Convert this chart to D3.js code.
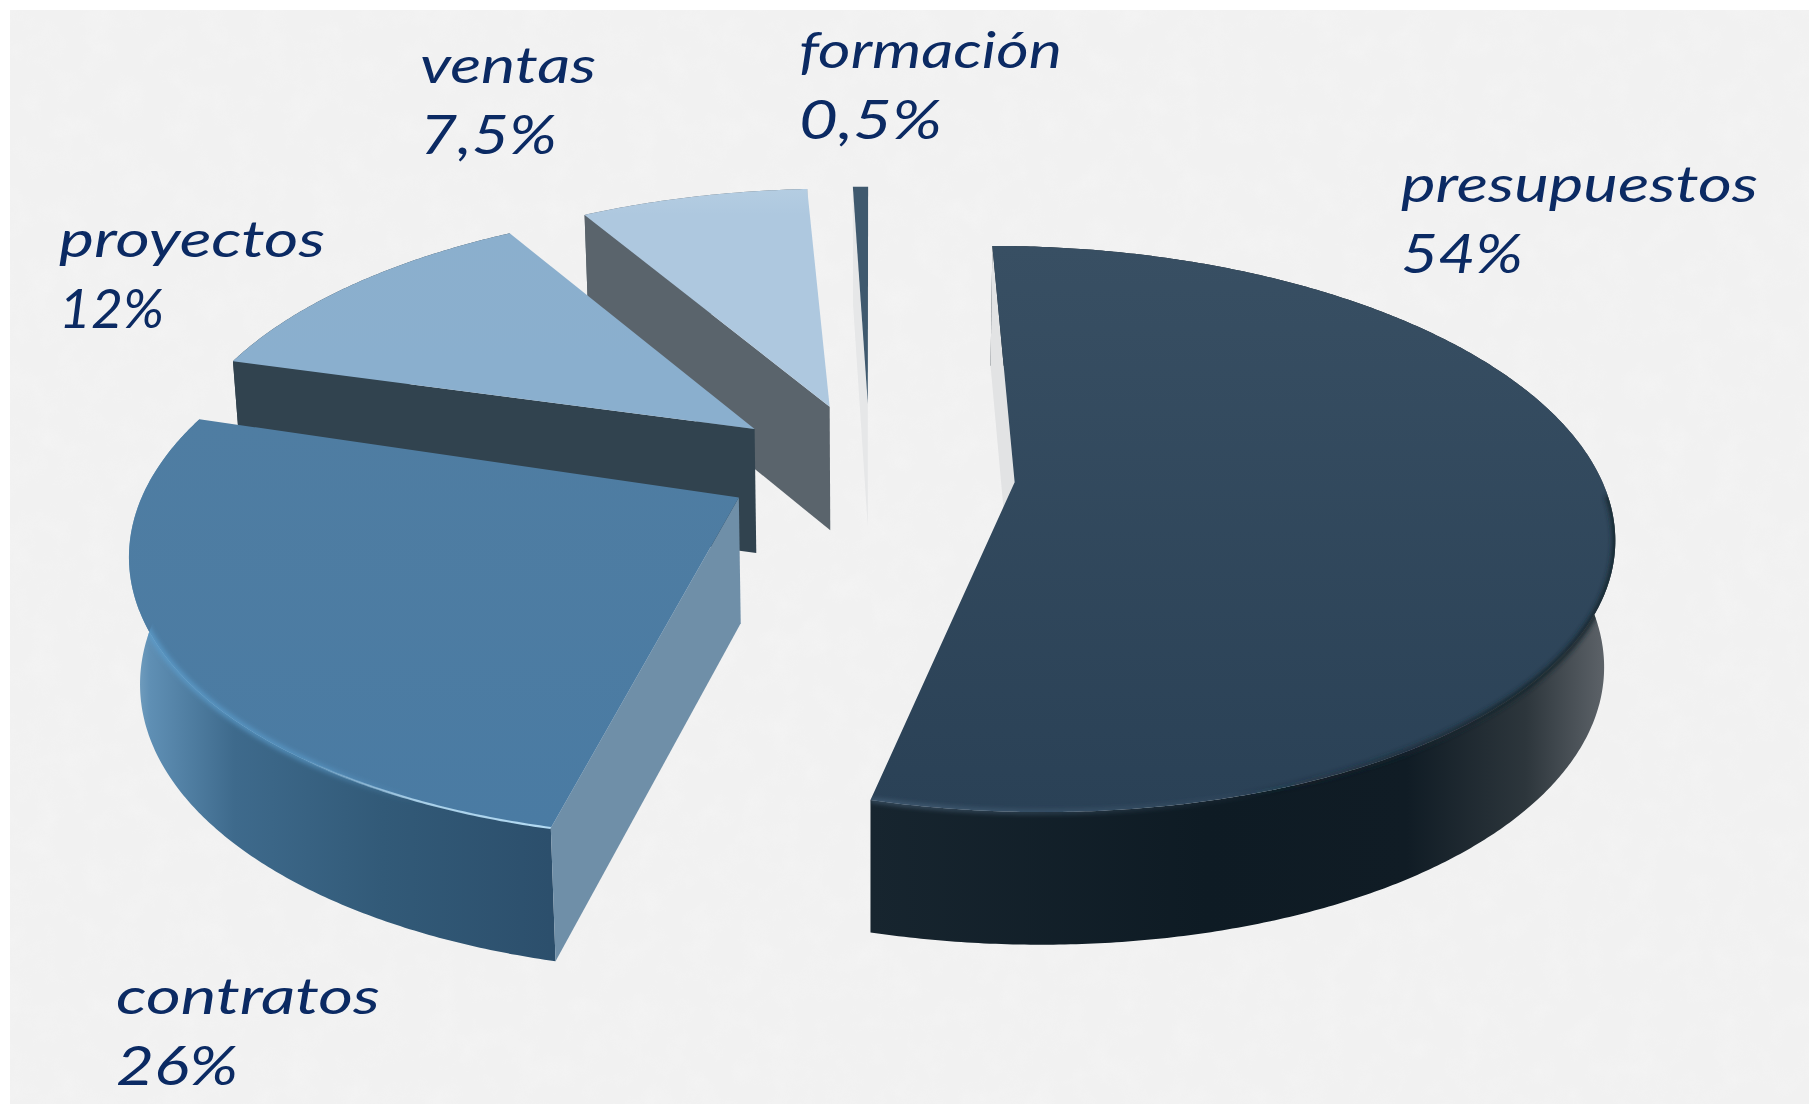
<!DOCTYPE html>
<html>
<head>
<meta charset="utf-8">
<style>
    html, body { margin: 0; padding: 0; background: #fff; }
    svg { display: block; }
    text { font-family: Lato, "Open Sans", sans-serif; font-style: italic; fill: #0b2a63; }
</style>
<script src="https://cdn.jsdelivr.net/npm/d3@7"></script>
</head>
<body>
<script>
'use strict';

var categories = ['presupuestos', 'contratos', 'proyectos', 'ventas', 'formación'];
var values = [54, 26, 12, 7.5, 0.5];
var valueLabels = ['54%', '26%', '12%', '7,5%', '0,5%'];

// styles per slice, same order as categories
var topColors = [['#384f63', '#2a4156'], ['#4f7da2', '#4a7ba3'], ['#8bafcd', '#8aafce'], ['#b4cde2', '#aec8df'], ['#3f596e', '#3f596e']];
var faceColors = ['#e2e3e4', '#6f8fa8', '#31434f', '#5a646c', '#e6e7e8'];
var wallStops = [
    [[0, '#17252f'], [0.45, '#0e1b24'], [0.72, '#101c25'], [0.88, '#2d363c'], [0.98, '#5a6066'], [1, '#62686d']],
    [[0, '#7fa8c6'], [0.05, '#5f8fb4'], [0.25, '#3e6a8c'], [0.6, '#325a78'], [1, '#2c4f6c']],
    [[0, '#31434f'], [1, '#31434f']],
    [[0, '#5a646c'], [1, '#5a646c']],
    [[0, '#e6e7e8'], [1, '#e6e7e8']]
];
var labelPlace = [
    {x: 1401, y: 202, w: 357, w2: 122},
    {x: 116, y: 1014, w: 264, w2: 122},
    {x: 59, y: 257, w: 266, w2: 105},
    {x: 420, y: 83, w: 176, w2: 137},
    {x: 799, y: 68, w: 263, w2: 143}
];
// small per-slice corrections for the hand-placed slices of the original
var turnDeg = [-0.2, -1.2, -2.2, -1.5, 0];
var nudge = [[0, 0], [-3, -11], [-3, -5], [0, -5], [0, -5]];

var width = 1809;
var height = 1104;

var cx = 870;
var cy = 474;
var R = 585;
var tilt = 0.466;
var depth = 3560;
var explode = 145;
var thick = 125;
var squeeze = 0.985;

function project(u, v, h, shift) {
    var s = 1 / (1 - v / depth);
    var x = cx + u * s;
    var y = cy + v * tilt * s;
    if (h) {
        x = cx + (x - cx) * squeeze;
        y += h * (1 + 0.3 * (s - 1));
    }
    return [x + shift[0], y + shift[1]];
}

var svg = d3.select('body').append('svg')
    .attr('width', width)
    .attr('height', height);

var defs = svg.append('defs');
defs.append('filter').attr('id', 'soft')
    .attr('x', '-20%').attr('y', '-20%').attr('width', '140%').attr('height', '140%')
    .append('feGaussianBlur').attr('stdDeviation', 2.5);
defs.append('filter').attr('id', 'edge')
    .attr('x', '-10%').attr('y', '-30%').attr('width', '120%').attr('height', '160%')
    .append('feGaussianBlur').attr('stdDeviation', 0.7);

var paper = defs.append('filter').attr('id', 'paper')
    .attr('x', 0).attr('y', 0).attr('width', '100%').attr('height', '100%');
paper.append('feTurbulence').attr('type', 'fractalNoise').attr('baseFrequency', 0.035).attr('numOctaves', 3).attr('seed', 4);
paper.append('feColorMatrix').attr('type', 'matrix')
    .attr('values', '0 0 0 0 1  0 0 0 0 1  0 0 0 0 1  0.9 0 0 0 -0.38');

function fadeGradient(id, color, x1, x2, stops) {
    var grad = defs.append('linearGradient').attr('id', id)
        .attr('gradientUnits', 'userSpaceOnUse')
        .attr('x1', x1).attr('x2', x2).attr('y1', 0).attr('y2', 0);
    stops.forEach(function(st) {
        grad.append('stop').attr('offset', st[0]).attr('stop-color', color).attr('stop-opacity', st[1]);
    });
}
fadeGradient('hilite', '#b5dcf4', 300, 556, [[0, 0], [0.45, 0.85], [1, 1]]);
fadeGradient('glow', '#5b9ccb', 130, 420, [[0, 1], [0.6, 0.8], [1, 0]]);
fadeGradient('presRim', '#54708a', 877, 1300, [[0, 0.9], [0.5, 0.5], [1, 0]]);
fadeGradient('presDark', '#18262f', 1230, 1500, [[0, 0], [1, 1]]);

svg.append('rect').attr('width', width).attr('height', height).attr('fill', '#fff');
svg.append('rect').attr('x', 10).attr('y', 10).attr('width', width - 10).attr('height', height - 10).attr('fill', '#f1f1f1');
svg.append('rect').attr('x', 10).attr('y', 10).attr('width', width - 10).attr('height', height - 10)
    .attr('filter', 'url(#paper)').attr('opacity', 0.35);

var pie = d3.pie().sort(null);
var arcs = pie(values);
var line = d3.line();

// back slices first, the front ones overlap them
d3.range(arcs.length - 1, -1, -1).forEach(function(i) {
    var d = arcs[i];
    var turn = turnDeg[i] * Math.PI / 180;
    var a0 = d.startAngle + turn;
    var a1 = d.endAngle + turn;
    var mid = (a0 + a1) / 2;
    var ox = explode * Math.sin(mid);
    var oy = -explode * Math.cos(mid);

    function rim(h) {
        var n = Math.max(4, Math.ceil((a1 - a0) * 120));
        return d3.range(n + 1).map(function(j) {
            var a = a0 + (a1 - a0) * j / n;
            return project(ox + R * Math.sin(a), oy - R * Math.cos(a), h, nudge[i]);
        });
    }

    var topRim = rim(0);
    var lowRim = rim(thick);
    var apex = project(ox, oy, 0, nudge[i]);
    var lowApex = project(ox, oy, thick, nudge[i]);

    var g = svg.append('g').attr('class', 'slice').datum(d);

    var xs = topRim.map(function(p) { return p[0]; });
    var wallId = 'wall' + i;
    var wallGrad = defs.append('linearGradient').attr('id', wallId)
        .attr('gradientUnits', 'userSpaceOnUse')
        .attr('x1', d3.min(xs)).attr('x2', d3.max(xs)).attr('y1', 0).attr('y2', 0);
    wallStops[i].forEach(function(st) {
        wallGrad.append('stop').attr('offset', st[0]).attr('stop-color', st[1]);
    });

    var topId = 'top' + i;
    var ys = topRim.map(function(p) { return p[1]; });
    var topGrad = defs.append('linearGradient').attr('id', topId)
        .attr('gradientUnits', 'userSpaceOnUse')
        .attr('x1', 0).attr('x2', 0).attr('y1', d3.min(ys)).attr('y2', d3.max(ys));
    topGrad.append('stop').attr('offset', 0).attr('stop-color', topColors[i][0]);
    topGrad.append('stop').attr('offset', 1).attr('stop-color', topColors[i][1]);

    var wallPath = line(topRim.concat(lowRim.slice().reverse())) + 'Z';
    var topPath = line([apex].concat(topRim)) + 'Z';

    // outer wall
    g.append('path')
        .attr('d', wallPath)
        .attr('fill', 'url(#' + wallId + ')');

    // only the radial face at the start angle is ever seen
    g.append('path')
        .attr('d', line([apex, topRim[0], lowRim[0], lowApex]) + 'Z')
        .attr('fill', faceColors[i]);

    g.append('path')
        .attr('d', topPath)
        .attr('fill', 'url(#' + topId + ')');

    // bevel along the rim, kept inside the slice so the blur does not spill on the paper
    var clip = defs.append('clipPath').attr('id', 'clip' + i);
    clip.append('path').attr('d', wallPath);
    clip.append('path').attr('d', topPath);
    var bevel = g.append('g').attr('clip-path', 'url(#clip' + i + ')');

    if (i === 0) {
        bevel.append('path')
            .attr('d', line(topRim.filter(function(p) { return p[1] > cy + 20; })))
            .attr('fill', 'none').attr('stroke', 'url(#presDark)').attr('stroke-width', 6)
            .attr('filter', 'url(#soft)');
        bevel.append('path')
            .attr('d', line(topRim.filter(function(p) { return p[1] > cy + 150; })))
            .attr('fill', 'none').attr('stroke', 'url(#presRim)').attr('stroke-width', 3)
            .attr('filter', 'url(#soft)');
    }
    if (i === 1) {
        bevel.append('path')
            .attr('d', line(topRim.filter(function(p) { return p[1] > cy - 30; })))
            .attr('fill', 'none').attr('stroke', 'url(#glow)').attr('stroke-width', 5)
            .attr('filter', 'url(#soft)');
        bevel.append('path')
            .attr('d', line(topRim.filter(function(p) { return p[0] > 300; })))
            .attr('fill', 'none').attr('stroke', 'url(#hilite)').attr('stroke-width', 2.2)
            .attr('filter', 'url(#edge)');
    }
});

var labels = svg.selectAll('g.label')
    .data(categories)
    .enter().append('g')
    .attr('class', 'label');

labels.append('text')
    .attr('x', function(d, i) { return labelPlace[i].x; })
    .attr('y', function(d, i) { return labelPlace[i].y; })
    .attr('font-size', 50)
    .attr('textLength', function(d, i) { return labelPlace[i].w; })
    .attr('lengthAdjust', 'spacingAndGlyphs')
    .text(function(d) { return d; });

labels.append('text')
    .attr('x', function(d, i) { return labelPlace[i].x; })
    .attr('y', function(d, i) { return labelPlace[i].y + 71; })
    .attr('font-size', 54)
    .attr('textLength', function(d, i) { return labelPlace[i].w2; })
    .attr('lengthAdjust', 'spacingAndGlyphs')
    .text(function(d, i) { return valueLabels[i]; });
</script>
</body>
</html>
